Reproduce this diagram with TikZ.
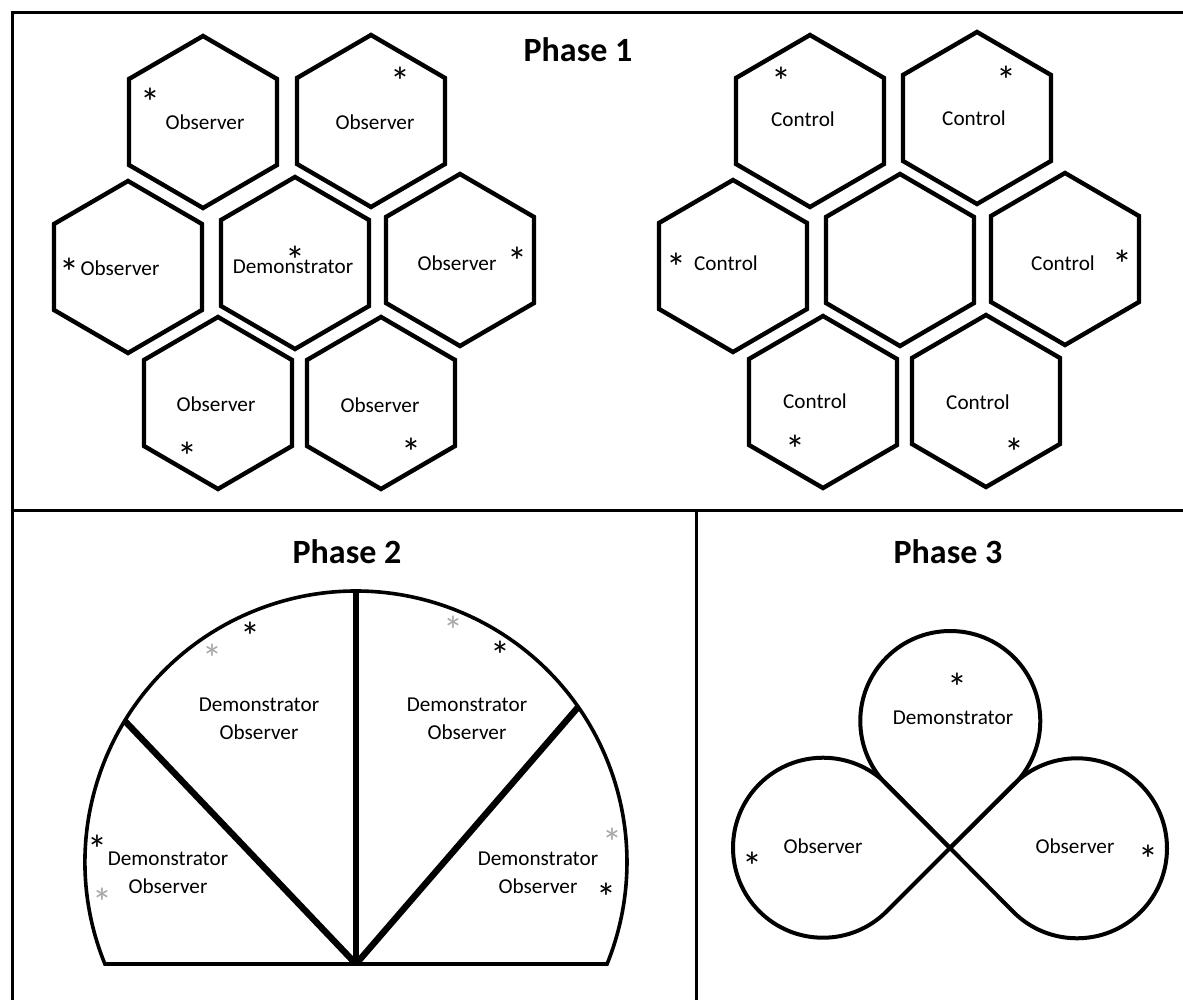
\documentclass[tikz,border=0pt]{standalone}
\usepackage{fontspec}
\setmainfont{Carlito}
\definecolor{stargray}{RGB}{168,168,168}

\tikzstyle{framelines}=[line width=1.5pt]
\tikzstyle{hexline}=[line width=2.2pt]
\tikzstyle{arena}=[line width=1.8pt]
\tikzstyle{divider}=[line width=3.2pt]
\tikzstyle{lobe}=[line width=2pt]
\tikzstyle{phasetitle}=[font=\fontsize{17}{20}\selectfont\bfseries, inner sep=0pt]
\tikzstyle{lbl}=[font=\fontsize{10.6}{14}\selectfont, align=center, inner sep=0pt]
\tikzstyle{asterisk}=[font=\fontsize{20}{20}\selectfont, inner sep=0pt, text height=18.5pt, text depth=-11.8pt]
\tikzstyle{grayasterisk}=[asterisk, text=stargray]

\newcommand{\hexcell}[1]{\draw[hexline] (#1) ++(0,-86) -- ++(74,43) -- ++(0,86) -- ++(-74,43) -- ++(-74,-43) -- ++(0,-86) -- cycle;}

\begin{document}
\begin{tikzpicture}[x=0.5pt,y=-0.5pt]
        \useasboundingbox (0,0) rectangle (1183,1000);
        \clip (0,0) rectangle (1183,1000);

        \draw[framelines] (1190,13) -- (12,13) -- (12,1010);
        \draw[framelines] (12,510) -- (1190,510);
        \draw[framelines] (696,510) -- (696,1010);

        \node[phasetitle] (p1) at (578,50) {Phase 1};
        \node[phasetitle] (p2) at (347,552) {Phase 2};
        \node[phasetitle] (p3) at (948,552) {Phase 3};

        \hexcell{203,122}
        \hexcell{371,121}
        \hexcell{128,267}
        \hexcell{295,263}
        \hexcell{460,260}
        \hexcell{218,403}
        \hexcell{381,403}
	\node[lbl] (obs1) at (205,122) {Observer};
	\node[lbl] (obs2) at (375,122) {Observer};
	\node[lbl] (obs3) at (120,268) {Observer};
	\node[lbl] (dem1) at (293,267) {Demonstrator};
	\node[lbl] (obs4) at (457,263) {Observer};
	\node[lbl] (obs5) at (216,404) {Observer};
	\node[lbl] (obs6) at (380,405) {Observer};
	\node[asterisk] (s1) at (150,98) {*};
	\node[asterisk] (s2) at (400,77) {*};
	\node[asterisk] (s3) at (69,268) {*};
	\node[asterisk] (s4) at (295,256) {*};
	\node[asterisk] (s5) at (517,257) {*};
	\node[asterisk] (s6) at (187,452) {*};
	\node[asterisk] (s7) at (411,448) {*};

        \hexcell{810,121}
        \hexcell{977,118}
        \hexcell{733,266}
        \hexcell{900,260}
        \hexcell{1065,259}
        \hexcell{823,402}
        \hexcell{986,401}
	\node[lbl] (ctl1) at (803,119) {Control};
	\node[lbl] (ctl2) at (974,118) {Control};
	\node[lbl] (ctl3) at (726,263) {Control};
	\node[lbl] (ctl4) at (1063,263) {Control};
	\node[lbl] (ctl5) at (815,401) {Control};
	\node[lbl] (ctl6) at (978,402) {Control};
	\node[asterisk] (s8) at (781,77) {*};
	\node[asterisk] (s9) at (1006,76) {*};
	\node[asterisk] (s10) at (676,263) {*};
	\node[asterisk] (s11) at (1122,260) {*};
	\node[asterisk] (s12) at (795,445) {*};
	\node[asterisk] (s13) at (1014,448) {*};

        \coordinate (hub) at (356,964);
        \coordinate (c2) at (356,862);
        \path (c2) ++(211.4:271) coordinate (wl);
        \path (c2) ++(270:271) coordinate (wt);
        \path (c2) ++(325.1:271) coordinate (wr);
        \draw[arena] (hub) -- ++(-251.1,0) arc[start angle=157.9, end angle=382.1, radius=271] -- cycle;
        \draw[divider] (hub) -- (wl);
        \draw[divider] (hub) -- (wt);
        \draw[divider] (hub) -- (wr);
	\node[lbl] (do1) at (259,719) {Demonstrator\\Observer};
	\node[lbl] (do2) at (467,719) {Demonstrator\\Observer};
	\node[lbl] (do3) at (168,873) {Demonstrator\\Observer};
	\node[lbl] (do4) at (538,873) {Demonstrator\\Observer};
	\node[asterisk] (s14) at (250,632) {*};
	\node[grayasterisk] (g1) at (212,654) {*};
	\node[grayasterisk] (g2) at (453,626) {*};
	\node[asterisk] (s15) at (500,651) {*};
	\node[asterisk] (s16) at (97,845) {*};
	\node[grayasterisk] (g3) at (102,898) {*};
	\node[grayasterisk] (g4) at (612,838) {*};
	\node[asterisk] (s17) at (606,893) {*};

        \coordinate (x3) at (950,848);
        \draw[lobe] (x3) -- ++(225:89.6) arc[start angle=135, end angle=405, radius=90] -- cycle;
        \draw[lobe] (x3) -- ++(135:89.6) arc[start angle=45, end angle=315, radius=90] -- cycle;
        \draw[lobe] (x3) -- ++(315:89.6) arc[start angle=225, end angle=495, radius=90] -- cycle;
	\node[lbl] (dem3) at (953,718) {Demonstrator};
	\node[lbl] (obs7) at (823,846) {Observer};
	\node[lbl] (obs8) at (1075,846) {Observer};
	\node[asterisk] (s18) at (957,683) {*};
	\node[asterisk] (s19) at (752,862) {*};
	\node[asterisk] (s20) at (1148,855) {*};
\end{tikzpicture}
\end{document}
